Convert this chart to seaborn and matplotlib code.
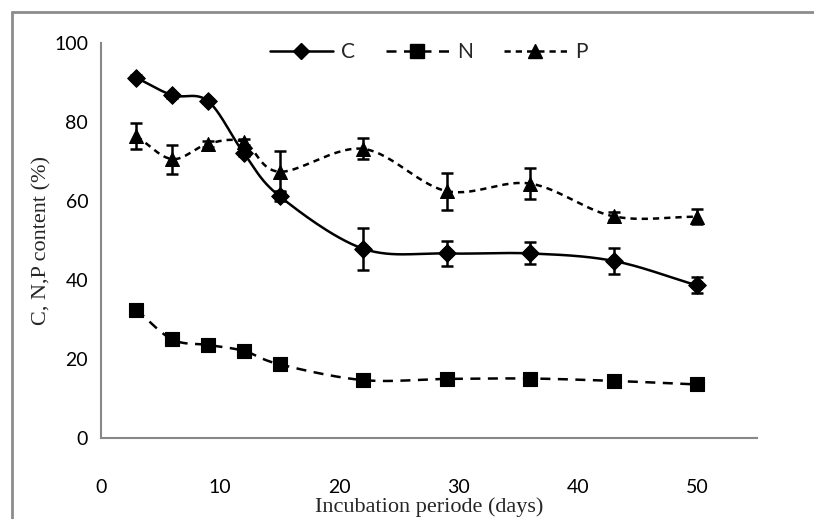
import numpy as np
import pandas as pd
import matplotlib
matplotlib.use("Agg")
import matplotlib.pyplot as plt
from matplotlib.lines import Line2D
import seaborn as sns

sns.set_theme(style="white")
plt.rcParams['font.family'] = ['Lato', 'DejaVu Sans']

# incubation days
days = [3, 6, 9, 12, 15, 22, 29, 36, 43, 50]

# C content (%) and error
c_mean = [91.2, 86.8, 85.3, 72.1, 61.2, 47.9, 46.7, 46.7, 44.8, 38.6]
c_err = [0.6, 0.6, 0.6, 0.8, 1.2, 5.3, 3.1, 2.8, 3.2, 2.0]

# N content (%) and error
n_mean = [32.4, 24.9, 23.5, 22.0, 18.6, 14.6, 14.9, 15.0, 14.4, 13.5]
n_err = [0.5, 0.5, 0.5, 0.5, 0.5, 0.5, 0.5, 0.5, 0.5, 0.5]

# P content (%) and error
p_mean = [76.4, 70.6, 74.5, 74.9, 67.4, 73.2, 62.5, 64.4, 56.1, 56.0]
p_err = [3.3, 3.7, 0.8, 0.8, 5.2, 2.7, 4.7, 3.9, 1.0, 1.9]

series = {"C": (c_mean, c_err, "-", "D", 9),
          "N": (n_mean, n_err, (0, (4, 3)), "s", 10),
          "P": (p_mean, p_err, (0, (2.5, 2)), "^", 10)}


def smooth(x, y, n=30):
    # catmull-rom style smoothing like excel "smoothed line"
    x = np.asarray(x, float)
    y = np.asarray(y, float)
    px = np.concatenate([[2 * x[0] - x[1]], x, [2 * x[-1] - x[-2]]])
    py = np.concatenate([[2 * y[0] - y[1]], y, [2 * y[-1] - y[-2]]])
    xs, ys = [], []
    for i in range(1, len(px) - 2):
        t = np.linspace(0, 1, n)
        p0, p1, p2, p3 = px[i - 1], px[i], px[i + 1], px[i + 2]
        q0, q1, q2, q3 = py[i - 1], py[i], py[i + 1], py[i + 2]
        b1x, b1y = p1 + (p2 - p0) / 6, q1 + (q2 - q0) / 6
        b2x, b2y = p2 - (p3 - p1) / 6, q2 - (q3 - q1) / 6
        xs.append((1 - t) ** 3 * p1 + 3 * (1 - t) ** 2 * t * b1x + 3 * (1 - t) * t ** 2 * b2x + t ** 3 * p2)
        ys.append((1 - t) ** 3 * q1 + 3 * (1 - t) ** 2 * t * b1y + 3 * (1 - t) * t ** 2 * b2y + t ** 3 * q2)
    return np.concatenate(xs), np.concatenate(ys)


fig = plt.figure(figsize=(8.14, 5.19), dpi=100)
ax = fig.add_axes([0.1237, 0.1566, 0.8059, 0.7604])

handles = []
for name, (mean, err, ls, mk, ms) in series.items():
    sx, sy = smooth(days, mean)
    sm = pd.DataFrame({"x": sx, "y": sy})
    sns.lineplot(data=sm, x="x", y="y", ax=ax, color="black", lw=1.8,
                 linestyle=ls, sort=False, estimator=None)
    ax.errorbar(days, mean, yerr=err, fmt="none", ecolor="black",
                elinewidth=1.8, capsize=4.5, capthick=1.8, zorder=3)
    sns.scatterplot(x=days, y=mean, ax=ax, marker=mk, s=ms ** 2,
                    color="black", edgecolor="black", zorder=4)
    handles.append(Line2D([], [], color="black", lw=1.8, linestyle=ls,
                          marker=mk, markersize=ms * 0.95, label=name))

ax.set_xlim(0, 55)
ax.set_ylim(0, 100)
ax.set_xticks([0, 10, 20, 30, 40, 50])
ax.set_yticks([0, 20, 40, 60, 80, 100])

for s in ["top", "right"]:
    ax.spines[s].set_visible(False)
for s in ["left", "bottom"]:
    ax.spines[s].set_color("#888888")
    ax.spines[s].set_linewidth(1.5)

ax.tick_params(axis="both", which="major", direction="out", length=5,
               width=1.3, color="#888888", labelsize=14, labelcolor="black")
ax.tick_params(axis="x", pad=25)
ax.tick_params(axis="y", pad=4)

ax.set_xlabel("Incubation periode (days)", family="Liberation Serif",
              fontsize=16)
ax.xaxis.set_label_coords(0.5, -0.15)
ax.set_ylabel("C, N,P content (%)", family="Liberation Serif", fontsize=16)
ax.yaxis.set_label_coords(-0.075, 0.5)

ax.legend(handles=handles, loc="center", bbox_to_anchor=(0.5, 0.977),
          ncol=3, frameon=False, fontsize=15, handlelength=3.0,
          columnspacing=1.5, handletextpad=0.4)

# outer chart frame (top and left edges visible)
fig.add_artist(Line2D([0.0143, 0.0143], [0.0, 0.9775], transform=fig.transFigure,
                      color="#8c8c8c", lw=2))
fig.add_artist(Line2D([0.0143, 1.0], [0.9775, 0.9775], transform=fig.transFigure,
                      color="#8c8c8c", lw=2))

fig.savefig("out.png", dpi=100)
